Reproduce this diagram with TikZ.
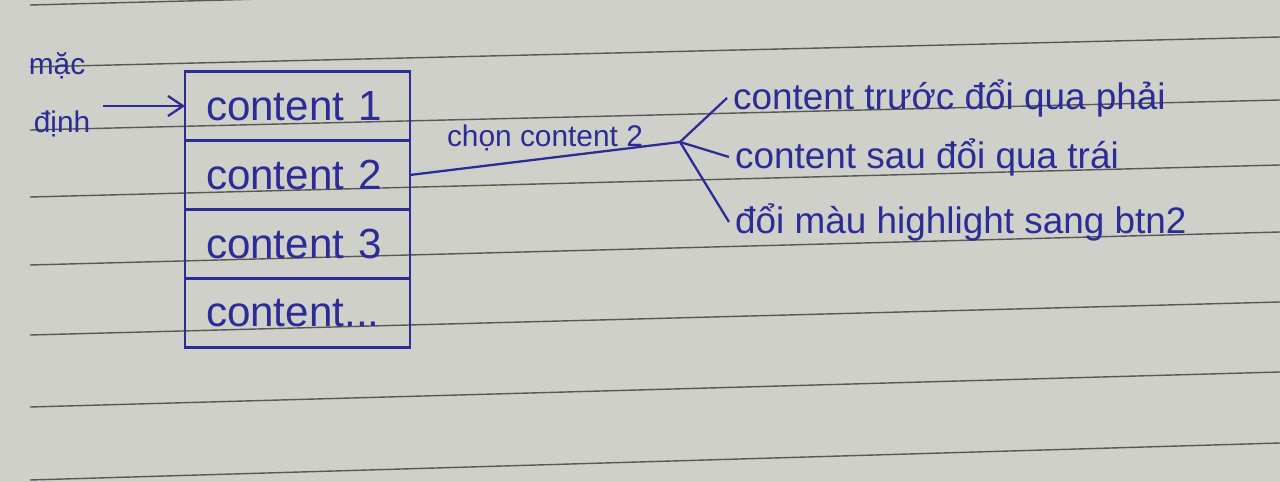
\documentclass[tikz,border=0pt]{standalone}
\usepackage{fontspec}
\setmainfont{Liberation Sans}
\usepackage{xcolor}
\usetikzlibrary{arrows.meta,positioning}
\definecolor{paper}{RGB}{208,208,202}
\definecolor{ink}{RGB}{44,44,150}
\definecolor{ruling}{RGB}{88,88,86}
\newcommand{\rowfont}{\fontsize{24}{28}\selectfont}
\newcommand{\notefont}{\fontsize{21}{25}\selectfont}
\newcommand{\labfont}{\fontsize{17}{20}\selectfont}

\begin{document}
\begin{tikzpicture}[
  x=0.02cm,y=-0.02cm,
  inkline/.style={draw=ink,line width=1.3pt},
  pointer/.style={inkline,-{Straight Barb[length=3mm,width=4mm]}},
  rule/.style={draw=ruling,line width=0.8pt},
  row/.style={inkline,minimum width=4.5cm,minimum height=1.38cm,text width=3.66cm,
    inner xsep=0.42cm,outer sep=0pt,align=left,text=ink,font=\rowfont},
  note/.style={anchor=west,text=ink,font=\notefont},
  lab/.style={text=ink,font=\labfont}
]
  \useasboundingbox (0,0) rectangle (1280,482);
  \fill[paper] (0,0) rectangle (1280,482);
  % ruled paper
  \foreach \yl/\yr in {5/-27,67/37,130/100,197/165,265/232,335/302,407/372,480/443}
    {\draw[rule] (30,\yl) -- (1280,\yr);}

  \node[lab] (mac) at (57,66) {mặc};
  \node[lab] (dinh) at (62,124) {định};

  \node[row] (row1) at (297.5,106) {content 1};
  \node[row,below=0pt of row1] (row2) {content 2};
  \node[row,below=0pt of row2] (row3) {content 3};
  \node[row,below=0pt of row3] (row4) {content...};
  \draw[pointer] ([xshift=4pt]dinh.east |- row1.west) -- (row1.west);

  \coordinate (fork) at (680,142);
  \draw[inkline] (row2.east) -- node[lab,above] {chọn content 2} (fork);

  \node[note] (before) at (727,98) {content trước đổi qua phải};
  \node[note] (after) at (729,157) {content sau đổi qua trái};
  \node[note] (colour) at (729,222) {đổi màu highlight sang btn2};
  \draw[inkline] (fork) -- (before.west);
  \draw[inkline] (fork) -- (after.west);
  \draw[inkline] (fork) -- (colour.west);
\end{tikzpicture}
\end{document}
